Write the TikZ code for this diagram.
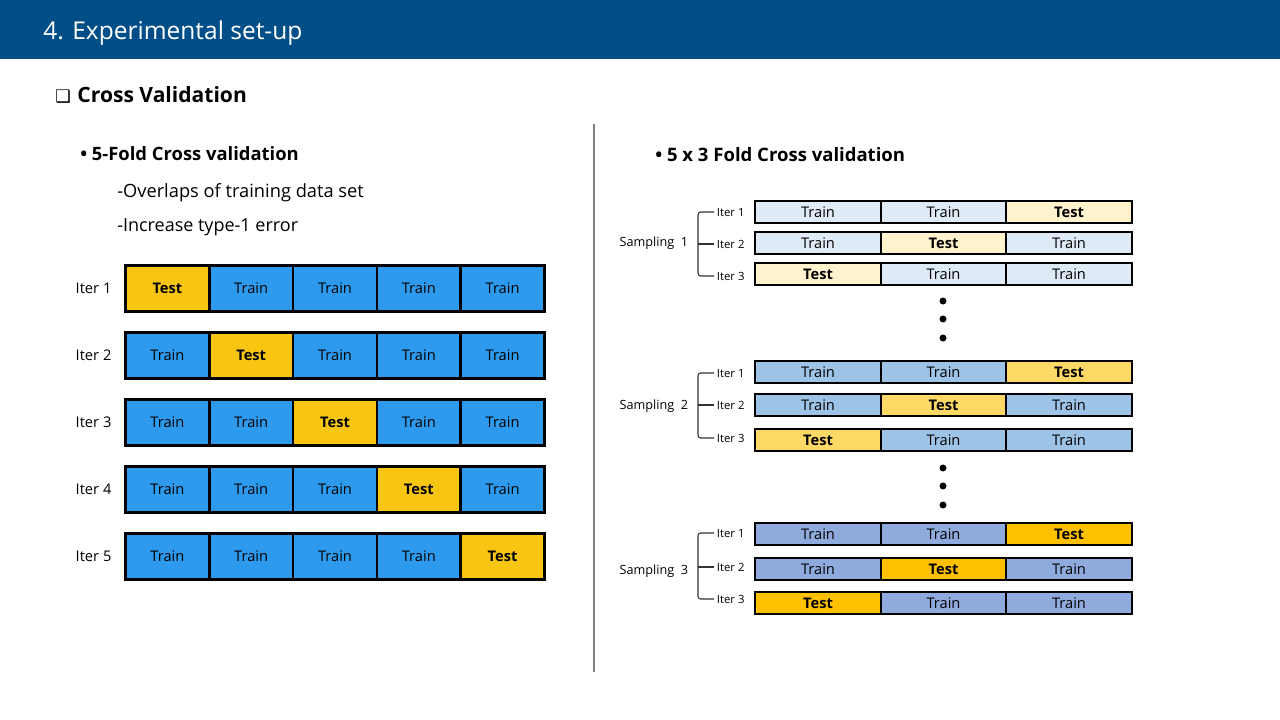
\documentclass[tikz,border=0pt]{standalone}
\usepackage{fontspec}
\setmainfont{Open Sans}
\newfontfamily\boxfont{DejaVu Sans}

\definecolor{headblue}{RGB}{0,78,135}
\definecolor{trainblue}{RGB}{46,154,237}
\definecolor{testyellow}{RGB}{248,198,18}
\definecolor{trainA}{RGB}{222,235,247}
\definecolor{testA}{RGB}{255,242,204}
\definecolor{trainB}{RGB}{157,195,230}
\definecolor{testB}{RGB}{255,217,102}
\definecolor{trainC}{RGB}{143,170,220}
\definecolor{testC}{RGB}{255,192,0}

\begin{document}
\begin{tikzpicture} [x=0.75pt,y=-0.75pt,
    fold node/.style={draw,line width=2pt,fill=trainblue,inner sep=0pt,
      minimum width=62.85pt,minimum height=34.5pt,font=\fontsize{11}{13}\selectfont},
    foldtest node/.style={fold node,fill=testyellow,font=\fontsize{11}{13}\selectfont\bfseries},
    split node/.style={draw,line width=1.8pt,inner sep=0pt,
      minimum width=94.1pt,minimum height=16.1pt,font=\fontsize{11}{13}\selectfont},
    splittest node/.style={split node,font=\fontsize{11}{13}\selectfont\bfseries},
    iter label/.style={inner sep=1pt,text height=1.6ex,text depth=0.3ex,
      font=\fontsize{11}{13}\selectfont},
    small label/.style={inner sep=2pt,text height=1.6ex,text depth=0.4ex,
      font=\fontsize{8.5}{10}\selectfont},
    bracket/.style={draw=black!80,line width=0.8pt,rounded corners=2pt}]

  \useasboundingbox (0,0) rectangle (1280,720);

  % header and headings
  \fill[headblue] (0,0) rectangle (1280,59);
  \node[anchor=base west, inner sep=0pt, text=white, font=\fontsize{18.4}{20}\selectfont] (title) at (43,40) {4. Experimental set-up};
  \node[anchor=base west, inner sep=0pt, font=\fontsize{15.8}{18}\selectfont\bfseries] (cv) at (55,103) {{\boxfont\fontsize{13}{15}\selectfont ❑}\hspace{5pt}Cross Validation};
  \node[anchor=base west, inner sep=0pt, font=\fontsize{13.8}{16}\selectfont\bfseries] (kfold) at (80,161) {• 5-Fold Cross validation};
  \node[anchor=base west, inner sep=0pt, font=\fontsize{13.7}{16}\selectfont] (note1) at (117,198) {-Overlaps of training data set};
  \node[anchor=base west, inner sep=0pt, font=\fontsize{13.5}{16}\selectfont] (note2) at (117,232) {-Increase type-1 error};
  \node[anchor=base west, inner sep=0pt, font=\fontsize{13.9}{16}\selectfont\bfseries] (rfold) at (655,162) {• 5 x 3 Fold Cross validation};

  \draw[black!50, line width=1.2pt] (594,124) -- (594,672);

  % 5-fold rows
  \node [iter label, anchor=east] (it1) at (113,288.5) {Iter 1};
  \node [foldtest node] (it1_c1) at (167.4,288.5) {Test};
  \node [fold node] (it1_c2) at (251.2,288.5) {Train};
  \node [fold node] (it1_c3) at (335.0,288.5) {Train};
  \node [fold node] (it1_c4) at (418.8,288.5) {Train};
  \node [fold node] (it1_c5) at (502.6,288.5) {Train};

  \node [iter label, anchor=east] (it2) at (113,355.5) {Iter 2};
  \node [fold node] (it2_c1) at (167.4,355.5) {Train};
  \node [foldtest node] (it2_c2) at (251.2,355.5) {Test};
  \node [fold node] (it2_c3) at (335.0,355.5) {Train};
  \node [fold node] (it2_c4) at (418.8,355.5) {Train};
  \node [fold node] (it2_c5) at (502.6,355.5) {Train};

  \node [iter label, anchor=east] (it3) at (113,422.5) {Iter 3};
  \node [fold node] (it3_c1) at (167.4,422.5) {Train};
  \node [fold node] (it3_c2) at (251.2,422.5) {Train};
  \node [foldtest node] (it3_c3) at (335.0,422.5) {Test};
  \node [fold node] (it3_c4) at (418.8,422.5) {Train};
  \node [fold node] (it3_c5) at (502.6,422.5) {Train};

  \node [iter label, anchor=east] (it4) at (113,489.5) {Iter 4};
  \node [fold node] (it4_c1) at (167.4,489.5) {Train};
  \node [fold node] (it4_c2) at (251.2,489.5) {Train};
  \node [fold node] (it4_c3) at (335.0,489.5) {Train};
  \node [foldtest node] (it4_c4) at (418.8,489.5) {Test};
  \node [fold node] (it4_c5) at (502.6,489.5) {Train};

  \node [iter label, anchor=east] (it5) at (113,556.5) {Iter 5};
  \node [fold node] (it5_c1) at (167.4,556.5) {Train};
  \node [fold node] (it5_c2) at (251.2,556.5) {Train};
  \node [fold node] (it5_c3) at (335.0,556.5) {Train};
  \node [fold node] (it5_c4) at (418.8,556.5) {Train};
  \node [foldtest node] (it5_c5) at (502.6,556.5) {Test};

  % sampling 1
  \node [small label, anchor=east, font=\fontsize{9.5}{11}\selectfont] (s1) at (691,242) {Sampling\ \ 1};
  \node [small label, anchor=west] (s1_it1) at (714,212) {Iter\ 1};
  \node [small label, anchor=west] (s1_it2) at (714,244) {Iter\ 2};
  \node [small label, anchor=west] (s1_it3) at (714,276) {Iter\ 3};
  \node [split node, fill=trainA] (s1_r1c1) at (818,212) {Train};
  \node [split node, fill=trainA] (s1_r1c2) at (943.5,212) {Train};
  \node [splittest node, fill=testA] (s1_r1c3) at (1069,212) {Test};
  \node [split node, fill=trainA] (s1_r2c1) at (818,243) {Train};
  \node [splittest node, fill=testA] (s1_r2c2) at (943.5,243) {Test};
  \node [split node, fill=trainA] (s1_r2c3) at (1069,243) {Train};
  \node [splittest node, fill=testA] (s1_r3c1) at (818,274) {Test};
  \node [split node, fill=trainA] (s1_r3c2) at (943.5,274) {Train};
  \node [split node, fill=trainA] (s1_r3c3) at (1069,274) {Train};
  \draw[bracket] (s1_it1.west) -- ++(-16,0) |- (s1_it3.west);
  \draw[bracket] (s1_it2.west) -- ++(-16,0);

  \fill (943,301) circle (3.5);
  \fill (943,319) circle (3.5);
  \fill (943,338) circle (3.5);

  % sampling 2
  \node [small label, anchor=east, font=\fontsize{9.5}{11}\selectfont] (s2) at (691,405) {Sampling\ \ 2};
  \node [small label, anchor=west] (s2_it1) at (714,373) {Iter\ 1};
  \node [small label, anchor=west] (s2_it2) at (714,405) {Iter\ 2};
  \node [small label, anchor=west] (s2_it3) at (714,438) {Iter\ 3};
  \node [split node, fill=trainB] (s2_r1c1) at (818,372) {Train};
  \node [split node, fill=trainB] (s2_r1c2) at (943.5,372) {Train};
  \node [splittest node, fill=testB] (s2_r1c3) at (1069,372) {Test};
  \node [split node, fill=trainB] (s2_r2c1) at (818,405) {Train};
  \node [splittest node, fill=testB] (s2_r2c2) at (943.5,405) {Test};
  \node [split node, fill=trainB] (s2_r2c3) at (1069,405) {Train};
  \node [splittest node, fill=testB] (s2_r3c1) at (818,440) {Test};
  \node [split node, fill=trainB] (s2_r3c2) at (943.5,440) {Train};
  \node [split node, fill=trainB] (s2_r3c3) at (1069,440) {Train};
  \draw[bracket] (s2_it1.west) -- ++(-16,0) |- (s2_it3.west);
  \draw[bracket] (s2_it2.west) -- ++(-16,0);

  \fill (943,468) circle (3.5);
  \fill (943,486) circle (3.5);
  \fill (943,505) circle (3.5);

  % sampling 3
  \node [small label, anchor=east, font=\fontsize{9.5}{11}\selectfont] (s3) at (691,570) {Sampling\ \ 3};
  \node [small label, anchor=west] (s3_it1) at (714,533) {Iter\ 1};
  \node [small label, anchor=west] (s3_it2) at (714,567) {Iter\ 2};
  \node [small label, anchor=west] (s3_it3) at (714,599) {Iter\ 3};
  \node [split node, fill=trainC] (s3_r1c1) at (818,534) {Train};
  \node [split node, fill=trainC] (s3_r1c2) at (943.5,534) {Train};
  \node [splittest node, fill=testC] (s3_r1c3) at (1069,534) {Test};
  \node [split node, fill=trainC] (s3_r2c1) at (818,569) {Train};
  \node [splittest node, fill=testC] (s3_r2c2) at (943.5,569) {Test};
  \node [split node, fill=trainC] (s3_r2c3) at (1069,569) {Train};
  \node [splittest node, fill=testC] (s3_r3c1) at (818,603) {Test};
  \node [split node, fill=trainC] (s3_r3c2) at (943.5,603) {Train};
  \node [split node, fill=trainC] (s3_r3c3) at (1069,603) {Train};
  \draw[bracket] (s3_it1.west) -- ++(-16,0) |- (s3_it3.west);
  \draw[bracket] (s3_it2.west) -- ++(-16,0);

\end{tikzpicture}
\end{document}
